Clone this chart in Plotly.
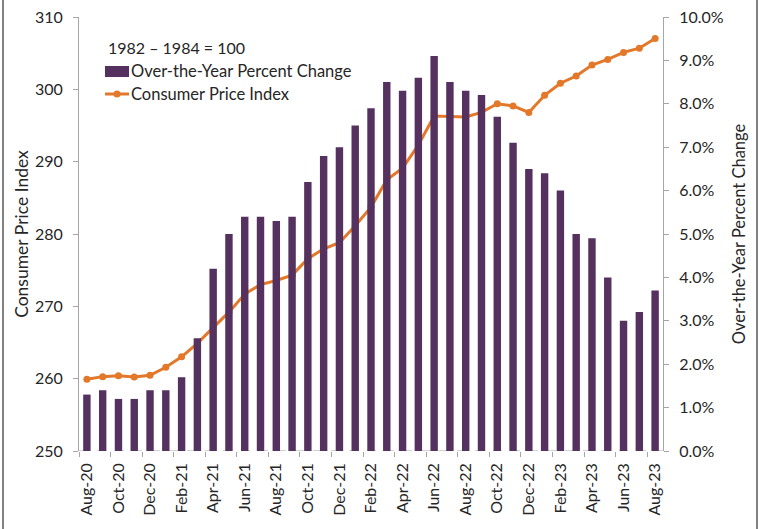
import plotly.graph_objects as go

months = ["Aug-20", "Sep-20", "Oct-20", "Nov-20", "Dec-20", "Jan-21", "Feb-21", "Mar-21",
          "Apr-21", "May-21", "Jun-21", "Jul-21", "Aug-21", "Sep-21", "Oct-21", "Nov-21",
          "Dec-21", "Jan-22", "Feb-22", "Mar-22", "Apr-22", "May-22", "Jun-22", "Jul-22",
          "Aug-22", "Sep-22", "Oct-22", "Nov-22", "Dec-22", "Jan-23", "Feb-23", "Mar-23",
          "Apr-23", "May-23", "Jun-23", "Jul-23", "Aug-23"]
pct_change = [1.3, 1.4, 1.2, 1.2, 1.4, 1.4, 1.7, 2.6, 4.2, 5.0, 5.4, 5.4, 5.3, 5.4, 6.2, 6.8,
              7.0, 7.5, 7.9, 8.5, 8.3, 8.6, 9.1, 8.5, 8.3, 8.2, 7.7, 7.1, 6.5, 6.4, 6.0, 5.0,
              4.9, 4.0, 3.0, 3.2, 3.7]
cpi = [259.918, 260.280, 260.388, 260.229, 260.474, 261.582, 263.014, 264.877, 267.054,
       269.195, 271.696, 273.003, 273.567, 274.310, 276.589, 277.948, 278.802, 281.148,
       283.716, 287.504, 289.109, 292.296, 296.311, 296.276, 296.171, 296.808, 298.012,
       297.711, 296.797, 299.170, 300.840, 301.836, 303.363, 304.127, 305.109, 305.691,
       307.026]
left_ticks = [250, 260, 270, 280, 290, 300, 310]
right_ticks = [0, 1, 2, 3, 4, 5, 6, 7, 8, 9, 10]
right_labels = ["0.0%", "1.0%", "2.0%", "3.0%", "4.0%", "5.0%", "6.0%", "7.0%", "8.0%",
                "9.0%", "10.0%"]
base_note = "1982 – 1984 = 100"
bar_name = "Over-the-Year Percent Change"
line_name = "Consumer Price Index"

idx = list(range(len(months)))
label_idx = idx[::2]
label_txt = [months[i] for i in label_idx]

FONT = "Lato"
TXT = "#262626"
AX = "#A6A6A6"
PURPLE = "#55315F"
ORANGE = "#E3782A"

fig = go.Figure()
fig.add_trace(go.Bar(x=idx, y=pct_change, name=bar_name,
                     marker=dict(color=PURPLE, line=dict(width=0)), yaxis="y2"))
fig.add_trace(go.Scatter(x=idx, y=cpi, name=line_name, mode="lines+markers",
                         line=dict(color=ORANGE, width=3),
                         marker=dict(color=ORANGE, size=7), yaxis="y"))

W, H = 764, 529
L, R, T, B = 79, 663, 17, 451
pw, ph = R - L, B - T


def px(x):
    return (x - L) / pw


def py(y):
    return (B - y) / ph


fig.update_layout(
    width=W, height=H,
    margin=dict(l=L, r=W - R, t=T, b=H - B, pad=0, autoexpand=False),
    paper_bgcolor="white", plot_bgcolor="white",
    font=dict(family=FONT, size=16, color=TXT),
    bargap=0.53,
    showlegend=False,
    xaxis=dict(range=[-0.5, len(months) - 0.5], tickmode="array", tickvals=label_idx,
               ticktext=label_txt, tickangle=-90, ticks="", showgrid=False,
               zeroline=False, showline=False, automargin=False, ticklabelstandoff=8,
               minor=dict(tick0=-0.5, dtick=2, ticks="outside", ticklen=5,
                          tickcolor=AX, tickwidth=1, showgrid=False),
               tickfont=dict(size=16)),
    yaxis=dict(range=[250, 310], tickvals=left_ticks, ticks="outside", ticklen=5,
               tickcolor=AX, showline=True, linecolor=AX, linewidth=1, automargin=False,
               showgrid=False, zeroline=False, tickfont=dict(size=16), ticklabelstandoff=7,
               title=dict(text=line_name, standoff=1, font=dict(size=17.5))),
    yaxis2=dict(range=[0, 10], tickvals=right_ticks, ticktext=right_labels,
                overlaying="y", side="right", ticks="outside", ticklen=5,
                tickcolor=AX, showline=True, linecolor=AX, linewidth=1, automargin=False,
                showgrid=False, zeroline=False, tickfont=dict(size=16), ticklabelstandoff=7,
                title=dict(text=bar_name, standoff=10, font=dict(size=16.5))),
)

fig.add_shape(type="line", xref="paper", yref="y", x0=0, x1=1, y0=250, y1=250,
              line=dict(color=AX, width=1.2, dash="dash"), layer="below")
# outer frame lines
for xx in [3, 757]:
    fig.add_shape(type="line", xref="paper", yref="paper", x0=px(xx), x1=px(xx),
                  y0=py(H), y1=py(0), line=dict(color="#595959", width=1.5))

# custom legend
fig.add_annotation(xref="paper", yref="paper", x=px(106), y=py(48), xanchor="left",
                   yanchor="middle", text=base_note, showarrow=False,
                   font=dict(size=16))
fig.add_shape(type="rect", xref="paper", yref="paper", x0=px(105), x1=px(129),
              y0=py(77), y1=py(66), fillcolor=PURPLE, line=dict(width=0))
fig.add_annotation(xref="paper", yref="paper", x=px(129), y=py(71), xanchor="left",
                   yanchor="middle", text=bar_name, showarrow=False,
                   font=dict(size=16.5))
fig.add_shape(type="line", xref="paper", yref="paper", x0=px(105), x1=px(129),
              y0=py(94), y1=py(94), line=dict(color=ORANGE, width=3))
fig.add_shape(type="circle", xref="paper", yref="paper", x0=px(113.5), x1=px(120.5),
              y0=py(97.5), y1=py(90.5), fillcolor=ORANGE, line=dict(width=0))
fig.add_annotation(xref="paper", yref="paper", x=px(129), y=py(94), xanchor="left",
                   yanchor="middle", text=line_name, showarrow=False,
                   font=dict(size=16.5))

fig.write_html("out.html", config={"displayModeBar": False},
               post_script="document.body.style.margin='0px';"
                           "document.body.style.overflow='hidden';")
